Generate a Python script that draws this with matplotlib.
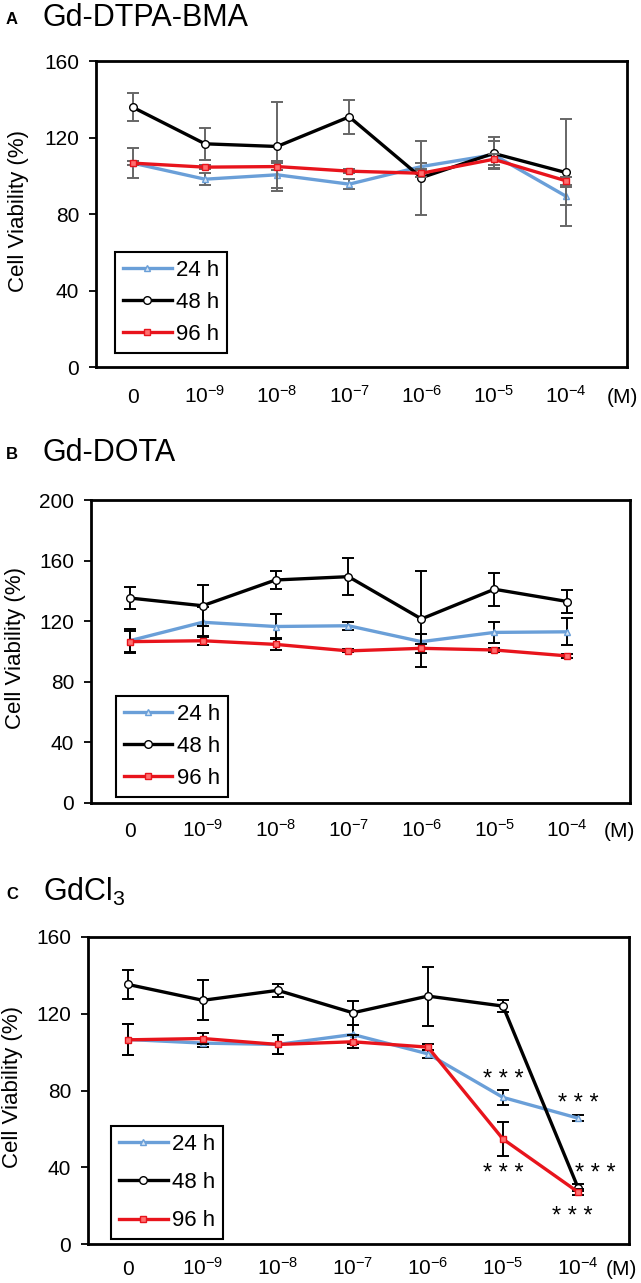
import matplotlib
matplotlib.use("Agg")
import matplotlib.pyplot as plt

plt.rcParams['font.family'] = ['Liberation Sans', 'DejaVu Sans']
plt.rcParams['mathtext.fontset'] = 'custom'
plt.rcParams['mathtext.rm'] = 'Liberation Sans'
plt.rcParams['mathtext.default'] = 'regular'

# concentrations (categories)
conc_labels = ['0', '$10^{-9}$', '$10^{-8}$', '$10^{-7}$', '$10^{-6}$', '$10^{-5}$', '$10^{-4}$']
series_names = ['24 h', '48 h', '96 h']

# A: Gd-DTPA-BMA
a24 = [106.6, 98.2, 100.5, 95.6, 104.8, 111.0, 89.4]
a24_err = [8, 3, 7, 2.5, 2, 7, 4.5]
a48 = [135.8, 116.7, 115.3, 130.8, 99.0, 111.7, 101.7]
a48_err = [7.3, 8.3, 23.2, 8.8, 19.4, 8.4, 27.8]
a96 = [106.6, 104.5, 104.8, 102.4, 101.3, 108.6, 97.4]
a96_err = [1, 1, 2, 1, 2, 3, 2]

# B: Gd-DOTA
b24 = [107.1, 119.3, 116.5, 117.0, 106.5, 112.6, 113.0]
b24_err = [8, 10, 8, 2.5, 5, 7, 9]
b48 = [135.3, 130.2, 147.2, 149.4, 121.5, 141.1, 133.0]
b48_err = [7.5, 13.5, 6, 12, 31.5, 11, 7.5]
b96 = [106.5, 107.1, 104.7, 100.4, 102.1, 101.0, 97.1]
b96_err = [7, 3, 4, 1, 3, 1, 1.5]

# C: GdCl3
c24 = [106.6, 104.7, 104.0, 109.2, 99.1, 76.4, 65.6]
c24_err = [8, 2, 5, 5, 2, 3.7, 1.5]
c48 = [135.3, 127.0, 132.2, 120.5, 129.2, 124.0, 29.4]
c48_err = [7.5, 10.5, 3.3, 6.3, 15.4, 3.2, 2]
c96 = [106.4, 107.1, 104.0, 105.4, 102.6, 54.7, 27.1]
c96_err = [8, 3, 5, 3.5, 1.5, 8.8, 1.5]

# significance marks in C (x, y of glyph centre)
star_x = [5.0, 5.0, 6.0, 6.23, 5.92]
star_y = [88.6, 40.0, 76.4, 40.0, 17.4]

colors = ['#6a9fd8', 'black', '#e8141c']
markers = ['^', 'o', 's']
mfcs = ['#d6e5f5', 'white', '#ff7070']
msizes = [5, 5.5, 4.5]

W, H = 641, 1283


def box(l, r, t, b):
    return [l / W, 1 - b / H, (r - l) / W, (b - t) / H]


fig = plt.figure(figsize=(W / 100, H / 100), dpi=100)

panels = [
    dict(tag='A', title='Gd-DTPA-BMA', rect=box(96, 627, 61, 367), ymax=160,
         data=[(a24, a24_err), (a48, a48_err), (a96, a96_err)], ecolor='#666666',
         xlim=(-0.51, 6.85), mpos=6.79, pad=26, tb=26, leg=(0.036, 0.046), ls=0.5, ylx=-0.126),
    dict(tag='B', title='Gd-DOTA', rect=box(91, 630, 500, 803), ymax=200,
         data=[(b24, b24_err), (b48, b48_err), (b96, b96_err)], ecolor='black',
         xlim=(-0.53, 6.86), mpos=6.72, pad=24.5, tb=461, leg=(0.046, 0.02), ls=0.5, ylx=-0.12),
    dict(tag='C', title='GdCl$_3$', rect=box(88, 629, 937, 1244), ymax=160,
         data=[(c24, c24_err), (c48, c48_err), (c96, c96_err)], ecolor='black',
         xlim=(-0.53, 6.68), mpos=6.58, pad=22, tb=901, leg=(0.043, 0.016), ls=0.78, ylx=-0.12),
]

x = list(range(len(conc_labels)))

for p in panels:
    ax = fig.add_axes(p['rect'])
    handles = []
    for i, (vals, errs) in enumerate(p['data']):
        ax.errorbar(x, vals, yerr=errs, fmt='none', ecolor=p['ecolor'],
                    elinewidth=1.4, capsize=4.5, capthick=1.4, zorder=2 + i)
        ln, = ax.plot(x, vals, color=colors[i], lw=2.4, marker=markers[i],
                      ms=msizes[i], mfc=mfcs[i], mec=colors[i], mew=1.0,
                      label=series_names[i], zorder=3 + i)
        handles.append(ln)

    ax.set_ylim(0, p['ymax'])
    ax.set_yticks(range(0, p['ymax'] + 1, 40))
    ax.set_xlim(*p['xlim'])
    ax.set_xticks(x + [p['mpos']])
    ax.set_xticklabels(conc_labels + ['(M)'])
    ax.tick_params(axis='y', direction='out', length=5, width=1.3, labelsize=15, pad=7)
    ax.tick_params(axis='x', length=0, labelsize=15, pad=p['pad'])
    for lbl in ax.get_xticklabels():
        lbl.set_va('baseline')
    for s in ax.spines.values():
        s.set_linewidth(2.0)
    ax.set_ylabel('Cell Viability (%)', fontsize=16)
    ax.yaxis.set_label_coords(p['ylx'], 0.51)

    leg = ax.legend(handles=handles, loc='lower left', bbox_to_anchor=p['leg'],
                    fontsize=16, frameon=True, fancybox=False, edgecolor='black',
                    framealpha=1, handlelength=2.2, handletextpad=0.2,
                    labelspacing=p['ls'], borderpad=0.35, borderaxespad=0)
    leg.get_frame().set_linewidth(1.5)

    fig.text(12 / W, 1 - (p['tb'] - 2) / H, p['tag'], fontsize=12, fontweight='bold',
             ha='center', va='baseline')
    fig.text(43 / W, 1 - p['tb'] / H, p['title'], fontsize=22, ha='left', va='baseline')

    if p['tag'] == 'C':
        for sx, sy in zip(star_x, star_y):
            ax.annotate('* * *', (sx, sy), xytext=(0, -9), textcoords='offset points',
                        ha='center', va='baseline', fontsize=17)

fig.savefig('out.png', dpi=100)
